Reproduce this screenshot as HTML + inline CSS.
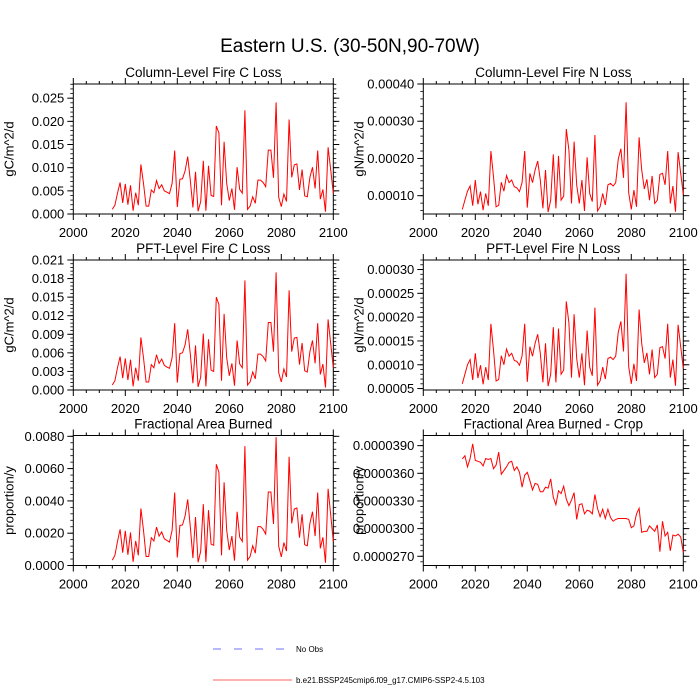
<!DOCTYPE html>
<html><head><meta charset="utf-8"><style>
html,body{margin:0;padding:0;background:#fff;width:700px;height:700px;overflow:hidden}
svg{display:block;font-family:"Liberation Sans",sans-serif}
</style></head><body>
<svg id="fig" width="700" height="700" viewBox="0 0 700 700">
<text x="350" y="52" font-size="19" text-anchor="middle">Eastern U.S. (30-50N,90-70W)</text>
<g>
<line x1="213" y1="649" x2="292" y2="649" stroke="#7070ff" stroke-width="1" stroke-dasharray="8,13"/>
<text x="296" y="652" font-size="8">No Obs</text>
<line x1="213" y1="680" x2="292" y2="680" stroke="#ff6060" stroke-width="1"/>
<text x="296" y="683" font-size="8">b.e21.BSSP245cmip6.f09_g17.CMIP6-SSP2-4.5.103</text>
</g>
</svg>
<script>
const years = [];
for (let y = 2015; y <= 2100; y++) years.push(y);
const xTicks = [2000, 2020, 2040, 2060, 2080, 2100];

const colC = [1.0,1.9,4.5,6.8,2.4,6.5,2.0,6.2,0.7,4.6,1.9,10.7,6.6,1.7,1.7,5.2,4.6,7.2,5.5,6.3,5.0,4.7,4.4,6.6,13.7,1.5,7.5,7.6,9.3,12.4,7.3,1.4,9.1,0.6,2.7,11.5,0.7,10.4,4.0,3.8,19.0,17.5,1.9,15.6,6.6,2.9,5.5,0.9,10.1,5.3,4.5,22.4,1.0,1.7,3.7,2.3,7.3,7.3,6.8,5.9,13.8,13.8,7.8,24.1,3.6,1.6,4.3,2.7,20.4,7.9,10.6,10.8,5.2,9.6,3.9,3.7,7.9,10.1,5.5,13.7,3.2,5.3,0.5,14.4,9.5,4.5]; // 1e-3
const colN = [6.3,8.8,11.2,12.6,7.3,14.2,7.7,11.1,6.1,10.6,7.3,22.0,15.1,7.0,7.4,13.6,11.2,15.4,13.5,14.2,12.4,12.1,11.1,13.6,22.0,6.8,16.0,13.5,16.9,19.3,14.2,6.6,16.9,5.6,8.8,21.1,6.6,20.7,8.8,9.9,27.9,22.3,7.9,24.5,12.9,7.9,14.2,5.9,20.3,10.6,8.4,26.3,5.9,7.0,10.6,7.5,12.9,13.3,12.6,13.5,19.9,22.6,14.8,35.1,10.8,6.3,11.5,7.0,25.7,16.9,11.8,14.4,8.8,15.3,7.9,8.8,15.7,16.0,12.9,22.0,7.9,12.6,5.7,21.7,16.0,10.3]; // 1e-5
const pftC = [0.8,1.5,3.6,5.4,1.9,5.1,1.6,4.9,0.6,3.6,1.5,8.5,5.2,1.3,1.3,4.1,3.6,5.7,4.3,5.0,4.0,3.7,3.5,5.2,10.8,1.2,5.9,6.0,7.3,9.8,5.8,1.1,7.2,0.5,2.1,9.1,0.6,8.2,3.2,3.0,15.0,13.8,1.5,12.3,5.2,2.3,4.3,0.7,8.0,4.2,3.6,17.7,0.8,1.3,2.9,1.8,5.8,5.8,5.4,4.7,10.9,10.9,6.2,19.0,2.8,1.3,3.4,2.1,16.1,6.2,8.4,8.5,4.1,7.6,3.1,2.9,6.2,8.0,4.3,10.8,2.5,4.2,0.4,11.4,7.5,3.6]; // 1e-3
const pftN = [6.0,8.0,10.0,11.1,6.8,12.4,7.2,9.9,5.9,9.5,6.8,18.6,13.1,6.6,6.9,11.9,10.0,13.3,11.8,12.4,10.9,10.7,9.9,11.9,18.6,6.4,13.8,11.8,14.5,16.4,12.4,6.3,14.5,5.5,8.0,17.9,6.3,17.6,8.0,8.9,23.3,18.8,7.3,20.6,11.3,7.3,12.4,5.7,17.2,9.5,7.7,22.0,5.7,6.6,9.5,7.0,11.3,11.6,11.1,11.8,16.9,19.1,12.8,29.1,9.6,6.0,10.2,6.6,21.6,14.5,10.4,12.5,8.0,13.2,7.3,8.0,13.6,13.8,11.3,18.6,7.3,11.1,5.6,18.4,13.8,9.2]; // 1e-5
const areaB = [0.33,0.63,1.49,2.24,0.79,2.15,0.66,2.05,0.23,1.52,0.63,3.53,2.18,0.56,0.56,1.72,1.52,2.38,1.82,2.08,1.65,1.55,1.45,2.18,4.52,0.5,2.48,2.51,3.07,4.09,2.41,0.46,3.0,0.2,0.89,3.8,0.23,3.43,1.32,1.25,6.27,5.78,0.63,5.15,2.18,0.96,1.82,0.3,3.33,1.75,1.49,7.39,0.33,0.56,1.22,0.76,2.41,2.41,2.24,1.95,4.55,4.55,2.57,7.95,1.19,0.53,1.42,0.89,6.73,2.61,3.5,3.56,1.72,3.17,1.29,1.22,2.61,3.33,1.82,4.52,1.06,1.75,0.17,4.75,3.14,1.49]; // 1e-3
const areaCrop = [375.6,379,367,376,392,374,373,372,368,376,375,376,365,369,383,359,363,367,372,373,363,367,361,345,358,361,352,342,349,348,340,340,345,344,354,334,326,341,338,346,332,325,331,339,310,326,327,316,320,319,316,337,322,313,321,311,321,312,308,310,311,311,311,311,310,301,303,316,322,296,297,297,303,300,297,304,275,308,292,296,276,293,292,294,291,274]; // 1e-7

const NS = "http://www.w3.org/2000/svg";
const svg = document.getElementById("fig");
function mk(tag, attrs, parent) {
  const e = document.createElementNS(NS, tag);
  for (const k in attrs) e.setAttribute(k, attrs[k]);
  (parent || svg).appendChild(e);
  return e;
}

const panels = [
  {name:"column-fire-c-loss", title:"Column-Level Fire C Loss", ylab:"gC/m^2/d", x0:73.3, y0:84, data:colC, sc:1e-3, ymin:0, ymax:0.02806, major:0.005, minor:0.001, dec:3},
  {name:"column-fire-n-loss", title:"Column-Level Fire N Loss", ylab:"gN/m^2/d", x0:423.3, y0:84, data:colN, sc:1e-5, ymin:0.0000508, ymax:0.0004, major:0.0001, minor:0.00002, dec:5},
  {name:"pft-fire-c-loss", title:"PFT-Level Fire C Loss", ylab:"gC/m^2/d", x0:73.3, y0:260, data:pftC, sc:1e-3, ymin:0, ymax:0.021, major:0.003, minor:0.0006, dec:3},
  {name:"pft-fire-n-loss", title:"PFT-Level Fire N Loss", ylab:"gN/m^2/d", x0:423.3, y0:260, data:pftN, sc:1e-5, ymin:0.000047, ymax:0.00032, major:0.00005, minor:0.00001, dec:5},
  {name:"fractional-area-burned", title:"Fractional Area Burned", ylab:"proportion/y", x0:73.3, y0:435.5, data:areaB, sc:1e-3, ymin:0, ymax:0.00805, major:0.002, minor:0.0004, dec:4},
  {name:"fractional-area-burned-crop", title:"Fractional Area Burned - Crop", ylab:"proportion/y", x0:423.3, y0:435.5, data:areaCrop, sc:1e-7, ymin:0.000026, ymax:0.0000401, major:0.000003, minor:0.0000006, dec:7, first:0.000027}
];
const W = 260, H = 130;

panels.forEach(p => {
  const g = mk("g", {});
  
  
  const xs = v => p.x0 + (v - 2000) / 100 * W;
  const ys = v => p.y0 + H - (v - p.ymin) / (p.ymax - p.ymin) * H;
  const t = mk("text", {x: p.x0 + W/2, y: p.y0 - 7, "font-size": 13.5, "text-anchor": "middle"}, g);
  t.textContent = p.title;
  
  
  const yl = mk("text", {x: 0, y: 0, "font-size": 13, "text-anchor": "middle", transform: `translate(${p.x0 - 60},${p.y0 + H/2}) rotate(-90)`}, g);
  yl.textContent = p.ylab;
  
  
  for (let yr = 2000; yr <= 2100; yr += 5) {
    const x = xs(yr), maj = yr % 20 === 0, len = maj ? 6 : 3;
    mk("line", {x1:x, y1:p.y0+H, x2:x, y2:p.y0+H+len, stroke:"#000", "stroke-width":1}, g);
    mk("line", {x1:x, y1:p.y0, x2:x, y2:p.y0-len, stroke:"#000", "stroke-width":1}, g);
  }
  xTicks.forEach(yr => {
    const tl = mk("text", {x: xs(yr), y: p.y0 + H + 23, "font-size": 13, "text-anchor": "middle"}, g);
    tl.textContent = yr;
    
    
  });
  const startMin = Math.ceil(p.ymin / p.minor - 1e-6) * p.minor;
  for (let v = startMin; v <= p.ymax + 1e-12; v += p.minor) {
    const y = ys(v);
    mk("line", {x1:p.x0, y1:y, x2:p.x0-3, y2:y, stroke:"#000", "stroke-width":0.8}, g);
    mk("line", {x1:p.x0+W, y1:y, x2:p.x0+W+3, y2:y, stroke:"#000", "stroke-width":0.8}, g);
  }
  const startMaj = p.first !== undefined ? p.first : Math.ceil(p.ymin / p.major - 1e-6) * p.major;
  for (let v = startMaj; v <= p.ymax + 1e-12; v += p.major) {
    const y = ys(v);
    mk("line", {x1:p.x0, y1:y, x2:p.x0-6, y2:y, stroke:"#000", "stroke-width":1}, g);
    mk("line", {x1:p.x0+W, y1:y, x2:p.x0+W+6, y2:y, stroke:"#000", "stroke-width":1}, g);
    const tl = mk("text", {x: p.x0 - 9, y: y + 4.5, "font-size": 13, "text-anchor": "end"}, g);
    tl.textContent = v.toFixed(p.dec);
    
    
  }
  mk("rect", {x:p.x0, y:p.y0, width:W, height:H, fill:"none", stroke:"#000", "stroke-width":1}, g);
  const pts = p.data.map((v, i) => xs(years[i]).toFixed(2) + "," + ys(v * p.sc).toFixed(2)).join(" ");
  const line = mk("polyline", {points: pts, fill:"none", stroke:"#ff0000", "stroke-width":1}, g);
  
  
});
</script>
</body></html>
